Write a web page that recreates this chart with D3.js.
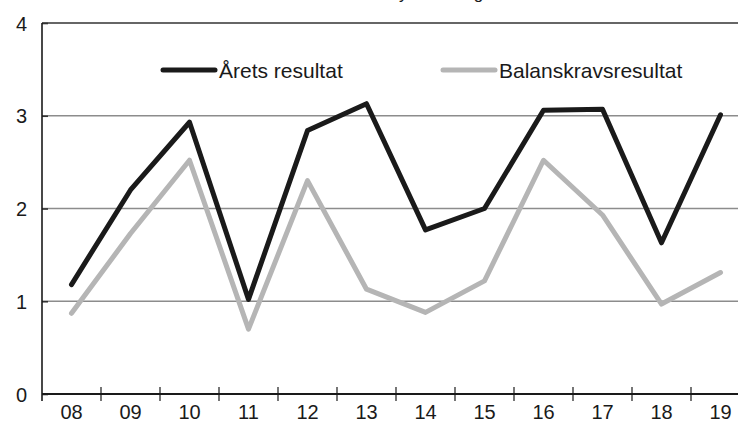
<!DOCTYPE html>
<html>
<head>
<meta charset="utf-8">
<script src="https://cdn.jsdelivr.net/npm/d3@7"></script>
<style>
  html, body { margin: 0; padding: 0; background: #fff; overflow: hidden; }
  svg { display: block; }
  text { font-family: "Liberation Sans", Arial, sans-serif; fill: #1a1a1a; }
</style>
</head>
<body>
<svg id="chart" width="738" height="426"></svg>
<script>
// Data
const categories = ["08", "09", "10", "11", "12", "13", "14", "15", "16", "17", "18", "19"];
const aretsResultat = [1.18, 2.20, 2.93, 1.02, 2.84, 3.13, 1.77, 2.00, 3.06, 3.07, 1.63, 3.01];
const balanskravsresultat = [0.87, 1.73, 2.52, 0.70, 2.30, 1.13, 0.88, 1.22, 2.52, 1.93, 0.97, 1.31];
const yTicks = [0, 1, 2, 3, 4];
const seriesNames = ["Årets resultat", "Balanskravsresultat"];
const titleText = "Resultatanalys för budget";

const svg = d3.select("#chart");
const mLeft = 42, mRight = 750, mTop = 23, mBottom = 394;

const x = d3.scaleBand().domain(categories).range([mLeft, mRight]).paddingInner(0).paddingOuter(0);
const y = d3.scaleLinear().domain([0, 4]).range([mBottom, mTop]);

// Partially clipped title at top (only its descenders are visible, as in the reference)
const title = svg.append("text")
  .attr("x", 0).attr("y", -1.2)
  .attr("font-size", 17)
  .text(titleText);
const idx = titleText.indexOf("ys");
try {
  const p = title.node().getStartPositionOfChar(idx).x;
  title.attr("x", 399 - p);
} catch (e) {}

// Gridlines
svg.append("g").selectAll("line")
  .data(yTicks.filter(d => d > 0 && d < 4))
  .join("line")
  .attr("x1", mLeft).attr("x2", mRight)
  .attr("y1", d => y(d)).attr("y2", d => y(d))
  .attr("stroke", "#8c8c8c").attr("stroke-width", 1.3);

// top line at 4
svg.append("line")
  .attr("x1", mLeft).attr("x2", mRight)
  .attr("y1", y(4)).attr("y2", y(4))
  .attr("stroke", "#333").attr("stroke-width", 1.6);

// Y axis
const yAxis = d3.axisLeft(y).tickValues(yTicks).tickSize(-6).tickPadding(15).tickFormat(d3.format("d"));
const gy = svg.append("g").attr("transform", `translate(${mLeft},0)`).call(yAxis);
gy.select(".domain").remove();
gy.selectAll(".tick line").attr("stroke", "#333").attr("stroke-width", 1.6);
gy.selectAll(".tick text").attr("font-size", 20).attr("fill", "#1a1a1a")
  .attr("font-family", "Liberation Sans, Arial, sans-serif").attr("dy", "0.36em");
svg.append("line")
  .attr("x1", mLeft).attr("x2", mLeft).attr("y1", y(4)).attr("y2", mBottom + 7)
  .attr("stroke", "#1a1a1a").attr("stroke-width", 1.6);

// X axis line
svg.append("line")
  .attr("x1", mLeft).attr("x2", mRight).attr("y1", mBottom).attr("y2", mBottom)
  .attr("stroke", "#1a1a1a").attr("stroke-width", 1.8);

// X ticks at band boundaries
svg.append("g").selectAll("line")
  .data(categories.slice(1))
  .join("line")
  .attr("x1", d => x(d)).attr("x2", d => x(d))
  .attr("y1", mBottom - 7).attr("y2", mBottom + 7)
  .attr("stroke", "#1a1a1a").attr("stroke-width", 1.2);

// X labels
svg.append("g").selectAll("text")
  .data(categories)
  .join("text")
  .attr("x", d => x(d) + x.bandwidth() / 2)
  .attr("y", 419)
  .attr("text-anchor", "middle")
  .attr("font-size", 20)
  .text(d => d);

// Lines
const cx = d => x(d) + x.bandwidth() / 2;
const line = d3.line().x((d, i) => cx(categories[i])).y(d => y(d));
svg.append("path").datum(balanskravsresultat)
  .attr("d", line).attr("fill", "none")
  .attr("stroke", "#b5b5b5").attr("stroke-width", 5)
  .attr("stroke-linecap", "round").attr("stroke-linejoin", "round");
svg.append("path").datum(aretsResultat)
  .attr("d", line).attr("fill", "none")
  .attr("stroke", "#1a1a1a").attr("stroke-width", 5)
  .attr("stroke-linecap", "round").attr("stroke-linejoin", "round");

// Legend
const legend = [
  { name: seriesNames[0], color: "#1a1a1a", x0: 163 },
  { name: seriesNames[1], color: "#b5b5b5", x0: 443 }
];
const lg = svg.append("g");
legend.forEach(l => {
  lg.append("line").attr("x1", l.x0).attr("x2", l.x0 + 52)
    .attr("y1", 70).attr("y2", 70)
    .attr("stroke", l.color).attr("stroke-width", 5).attr("stroke-linecap", "round");
  lg.append("text").attr("x", l.x0 + 56).attr("y", 78)
    .attr("font-size", 21).text(l.name);
});
</script>
</body>
</html>
